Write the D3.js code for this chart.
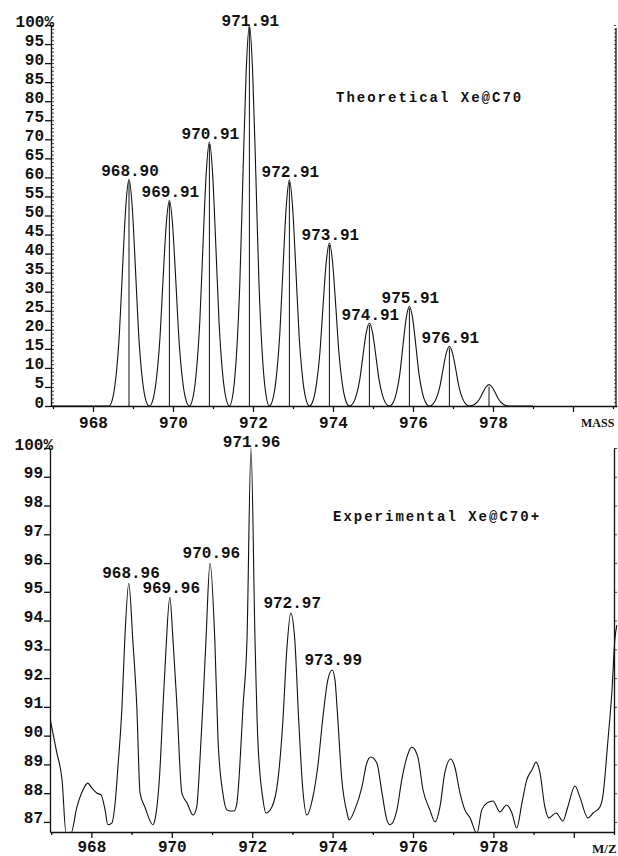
<!DOCTYPE html>
<html>
<head>
<meta charset="utf-8">
<script src="https://cdn.jsdelivr.net/npm/d3@7"></script>
<style>
  body { margin: 0; background: #fff; }
  svg { display: block; }
</style>
</head>
<body>
<div id="chart-container"></div>
<script>
const chartWidth = 618;
const chartHeight = 856;
const monoFont = "'Liberation Mono', 'DejaVu Sans Mono', monospace";

// Theoretical Xe@C70 isotope pattern (percent)
const theoMass = [968.90, 969.91, 970.91, 971.91, 972.91, 973.91, 974.91, 975.91, 976.91, 977.90];
const theoIntensity = [59.5, 54, 69.3, 100, 59.3, 42.8, 21.8, 26.2, 15.7, 5.6];
const theoLabels = ['968.90', '969.91', '970.91', '971.91', '972.91', '973.91', '974.91', '975.91', '976.91', ''];

// line shape of one theoretical peak (offset in mass, fraction of height)
const peakShapeOffset = [-0.5, -0.4, -0.32, -0.24, -0.16, -0.08, 0, 0.08, 0.16, 0.24, 0.32, 0.4, 0.5];
const peakShapeLevel = [0, 0.04, 0.14, 0.32, 0.61, 0.88, 1, 0.88, 0.61, 0.32, 0.14, 0.04, 0];

// Experimental Xe@C70+ trace (percent)
const expMass = [
  966.97, 967.14, 967.27, 967.37, 967.49, 967.64, 967.79, 967.91, 968.01, 968.14,
  968.24, 968.34, 968.41, 968.51, 968.59, 968.66, 968.76, 968.83, 968.93, 969.03,
  969.13, 969.21, 969.33, 969.53, 969.58, 969.70, 969.78, 969.85, 969.95, 970.03,
  970.13, 970.25, 970.38, 970.53, 970.62, 970.70, 970.77, 970.85, 970.95, 971.07,
  971.15, 971.27, 971.37, 971.45, 971.55, 971.62, 971.69, 971.77, 971.87, 971.97,
  972.07, 972.14, 972.27, 972.34, 972.49, 972.64, 972.76, 972.86, 972.96, 973.06,
  973.16, 973.26, 973.36, 973.51, 973.63, 973.76, 973.88, 973.99, 974.06, 974.11,
  974.23, 974.36, 974.41, 974.55, 974.73, 974.85, 974.95, 975.10, 975.23, 975.35,
  975.43, 975.60, 975.72, 975.85, 975.97, 976.12, 976.25, 976.42, 976.55, 976.67,
  976.79, 976.94, 977.04, 977.17, 977.29, 977.42, 977.59, 977.71, 977.84, 977.99,
  978.16, 978.33, 978.46, 978.58, 978.71, 978.83, 978.96, 979.06, 979.16, 979.28,
  979.38, 979.56, 979.73, 979.85, 980.03, 980.15, 980.35, 980.48, 980.65, 980.72,
  980.85, 980.95, 981.02, 981.07
];
const expIntensity = [
  90.6, 89.4, 88.46, 86.6, 86.6, 87.52, 88.11, 88.35, 88.18, 88.0,
  87.94, 87.42, 86.9, 86.97, 87.66, 88.91, 90.99, 93.32, 95.3, 93.32,
  90.99, 88.0, 87.52, 86.9, 87.07, 88.7, 90.99, 92.87, 94.81, 93.32,
  90.99, 88.0, 87.66, 87.24, 87.52, 89.15, 90.99, 93.32, 95.99, 93.32,
  89.85, 88.0, 87.42, 87.38, 87.38, 87.66, 88.91, 90.99, 93.32, 100,
  93.32, 89.85, 87.76, 87.31, 87.52, 88.46, 90.44, 92.97, 94.26, 93.32,
  90.44, 88.11, 87.24, 87.87, 88.91, 90.65, 91.93, 92.28, 91.93, 90.99,
  88.46, 87.31, 87.07, 87.42, 88.22, 89.05, 89.26, 89.05, 88.0, 87.07,
  86.9, 87.42, 88.46, 89.26, 89.6, 89.26, 88.11, 87.42, 87.0, 87.52,
  88.7, 89.19, 88.91, 88.0, 87.42, 87.14, 86.6, 87.42, 87.66, 87.73,
  87.35, 87.59, 87.31, 86.79, 87.66, 88.46, 88.81, 89.08, 88.7, 87.52,
  87.14, 87.31, 87.03, 87.52, 88.25, 87.87, 87.14, 87.31, 87.52, 87.87,
  89.85, 91.58, 93.32, 93.84
];
const expPeakMass = [968.96, 969.96, 970.96, 971.96, 972.97, 973.99];
const expPeakIntensity = [95.3, 94.8, 96.0, 100, 94.26, 92.28];
const expPeakLabels = ['968.96', '969.96', '970.96', '971.96', '972.97', '973.99'];

// Tick values
const massMajorTicks = [968, 970, 972, 974, 976, 978, 980];
const massMinorTicks = [967, 969, 971, 973, 975, 977, 979, 981];
const massTickLabels = ['968', '970', '972', '974', '976', '978', ''];
const topYTicks = [0, 5, 10, 15, 20, 25, 30, 35, 40, 45, 50, 55, 60, 65, 70, 75, 80, 85, 90, 95, 100];
const topYMinorTicks = d3.range(0, 101, 1);
const botYTicks = [87, 88, 89, 90, 91, 92, 93, 94, 95, 96, 97, 98, 99, 100];

const svg = d3
  .select('#chart-container')
  .append('svg')
  .attr('width', chartWidth)
  .attr('height', chartHeight)
  .style('background', '#fff');

const styleAxis = (g) => {
  g.attr('font-family', monoFont).attr('font-size', 16).attr('font-weight', 'bold');
  g.selectAll('path, line').attr('stroke', '#111').attr('stroke-width', 1.3);
  g.selectAll('text').attr('fill', '#111');
};

// ---------- Top panel: theoretical ----------
const xTop = d3.scaleLinear().domain([966.95, 981.1]).range([51, 617]);
const yTop = d3.scaleLinear().domain([0, 100]).range([406, 25]);

// profile built from peak list and the peak line shape
const theoProfile = [[966.95, 0]];
theoMass.forEach((m, i) => {
  peakShapeOffset.forEach((off, j) => {
    theoProfile.push([m + off, theoIntensity[i] * peakShapeLevel[j]]);
  });
});
theoProfile.push([979.0, 0]);

const topLine = d3
  .line()
  .x((d) => xTop(d[0]))
  .y((d) => yTop(d[1]))
  .curve(d3.curveMonotoneX);

svg
  .append('path')
  .datum(theoProfile)
  .attr('fill', 'none')
  .attr('stroke', '#111')
  .attr('stroke-width', 1.1)
  .attr('d', topLine);

// centroid sticks
svg
  .selectAll('.stick')
  .data(theoMass)
  .enter()
  .append('line')
  .attr('class', 'stick')
  .attr('x1', (d) => xTop(d))
  .attr('x2', (d) => xTop(d))
  .attr('y1', yTop(0))
  .attr('y2', (d, i) => yTop(theoIntensity[i]) + 2)
  .attr('stroke', '#111')
  .attr('stroke-width', 1);

svg
  .selectAll('.theo-label')
  .data(theoLabels)
  .enter()
  .append('text')
  .attr('class', 'theo-label')
  .attr('x', (d, i) => xTop(theoMass[i]) + 1)
  .attr('y', (d, i) => Math.max(yTop(theoIntensity[i]) - 3, 26))
  .attr('text-anchor', 'middle')
  .attr('font-family', monoFont)
  .attr('font-weight', 'bold')
  .attr('font-size', 16)
  .attr('fill', '#111')
  .text((d) => d);

// axes
svg
  .append('g')
  .attr('transform', `translate(0,${yTop(0)})`)
  .call(
    d3.axisBottom(xTop)
      .tickValues(massMajorTicks)
      .tickFormat((d, i) => massTickLabels[i])
      .tickSize(6)
      .tickPadding(5)
      .tickSizeOuter(0)
  )
  .call(styleAxis);

svg
  .append('g')
  .attr('transform', `translate(0,${yTop(0)})`)
  .call(d3.axisBottom(xTop).tickValues(massMinorTicks).tickFormat('').tickSize(3).tickSizeOuter(0))
  .call(styleAxis)
  .call((g) => g.select('.domain').remove());

svg
  .append('g')
  .attr('transform', `translate(${xTop.range()[0]},0)`)
  .call(
    d3.axisLeft(yTop)
      .tickValues(topYTicks)
      .tickFormat((d) => (d === 100 ? '100%' : d))
      .tickSize(6)
      .tickPadding(1)
      .tickSizeOuter(0)
  )
  .call(styleAxis)
  .call((g) => g.selectAll('text').attr('dy', 1))
  .call((g) =>
    g.selectAll('.tick')
      .filter((d) => d === 100)
      .select('text')
      .attr('x', 3)
  );

svg
  .append('g')
  .attr('transform', `translate(${xTop.range()[0]},0)`)
  .call(d3.axisRight(yTop).tickValues(topYMinorTicks).tickFormat('').tickSize(3).tickSizeOuter(0))
  .call(styleAxis)
  .call((g) => g.selectAll('line').attr('stroke-width', 0.8))
  .call((g) => g.select('.domain').remove());

// right border
svg
  .append('g')
  .attr('transform', `translate(${xTop.range()[1] - 1},0)`)
  .call(d3.axisLeft(yTop).tickValues(topYMinorTicks).tickFormat('').tickSize(2).tickSizeOuter(0))
  .call(styleAxis)
  .call((g) => g.selectAll('line').attr('stroke-width', 0.7))
  .call((g) => g.select('.domain').attr('d', `M0,${yTop(0)}V${yTop(100) + 3}`));

svg
  .append('text')
  .attr('x', 336)
  .attr('y', 102)
  .attr('font-family', monoFont)
  .attr('font-weight', 'bold')
  .attr('font-size', 14)
  .attr('letter-spacing', 2)
  .attr('fill', '#111')
  .text('Theoretical Xe@C70');

svg
  .append('text')
  .attr('x', 581)
  .attr('y', 427)
  .attr('font-family', "'Liberation Serif', serif")
  .attr('font-weight', 'bold')
  .attr('font-size', 12)
  .attr('fill', '#111')
  .text('MASS');

// ---------- Bottom panel: experimental ----------
const xBot = d3.scaleLinear().domain([966.97, 981.0]).range([50, 614]);
const yBot = d3.scaleLinear().domain([86.65, 100]).range([832, 448]);

svg
  .append('clipPath')
  .attr('id', 'bot-clip')
  .append('rect')
  .attr('x', 50)
  .attr('y', 430)
  .attr('width', 568)
  .attr('height', 402);

const botLine = d3
  .line()
  .x((d, i) => xBot(expMass[i]))
  .y((d) => yBot(d))
  .curve(d3.curveMonotoneX);

svg
  .append('path')
  .datum(expIntensity)
  .attr('clip-path', 'url(#bot-clip)')
  .attr('fill', 'none')
  .attr('stroke', '#111')
  .attr('stroke-width', 1.1)
  .attr('d', botLine);

svg
  .selectAll('.exp-label')
  .data(expPeakLabels)
  .enter()
  .append('text')
  .attr('class', 'exp-label')
  .attr('x', (d, i) => xBot(expPeakMass[i]) + 1)
  .attr('y', (d, i) => Math.max(yBot(expPeakIntensity[i]) - 5, 447))
  .attr('text-anchor', 'middle')
  .attr('font-family', monoFont)
  .attr('font-weight', 'bold')
  .attr('font-size', 16)
  .attr('fill', '#111')
  .text((d) => d);

svg
  .append('g')
  .attr('transform', `translate(0,${yBot.range()[0]})`)
  .call(
    d3.axisBottom(xBot)
      .tickValues(massMajorTicks)
      .tickFormat((d, i) => massTickLabels[i])
      .tickSize(6)
      .tickPadding(3)
      .tickSizeOuter(0)
  )
  .call(styleAxis);

svg
  .append('g')
  .attr('transform', `translate(0,${yBot.range()[0]})`)
  .call(d3.axisBottom(xBot).tickValues(massMinorTicks).tickFormat('').tickSize(3).tickSizeOuter(0))
  .call(styleAxis)
  .call((g) => g.select('.domain').remove());

svg
  .append('g')
  .attr('transform', `translate(${xBot.range()[0]},0)`)
  .call(
    d3.axisLeft(yBot)
      .tickValues(botYTicks)
      .tickFormat((d) => (d === 100 ? '100%' : d))
      .tickSize(6)
      .tickPadding(1)
      .tickSizeOuter(0)
  )
  .call(styleAxis)
  .call((g) => g.selectAll('text').attr('dy', 1))
  .call((g) =>
    g.selectAll('.tick')
      .filter((d) => d === 100)
      .select('text')
      .attr('x', 3)
  );

svg
  .append('g')
  .attr('transform', `translate(${xBot.range()[1]},0)`)
  .call(d3.axisRight(yBot).tickValues(botYTicks).tickFormat('').tickSize(3).tickSizeOuter(0))
  .call(styleAxis)
  .call((g) => g.selectAll('line').attr('stroke-width', 0.8));

svg
  .append('text')
  .attr('x', 333)
  .attr('y', 521)
  .attr('font-family', monoFont)
  .attr('font-weight', 'bold')
  .attr('font-size', 14)
  .attr('letter-spacing', 2)
  .attr('fill', '#111')
  .text('Experimental Xe@C70+');

svg
  .append('text')
  .attr('x', 592)
  .attr('y', 853)
  .attr('font-family', "'Liberation Serif', serif")
  .attr('font-weight', 'bold')
  .attr('font-size', 13)
  .attr('fill', '#111')
  .text('M/Z');
</script>
</body>
</html>
